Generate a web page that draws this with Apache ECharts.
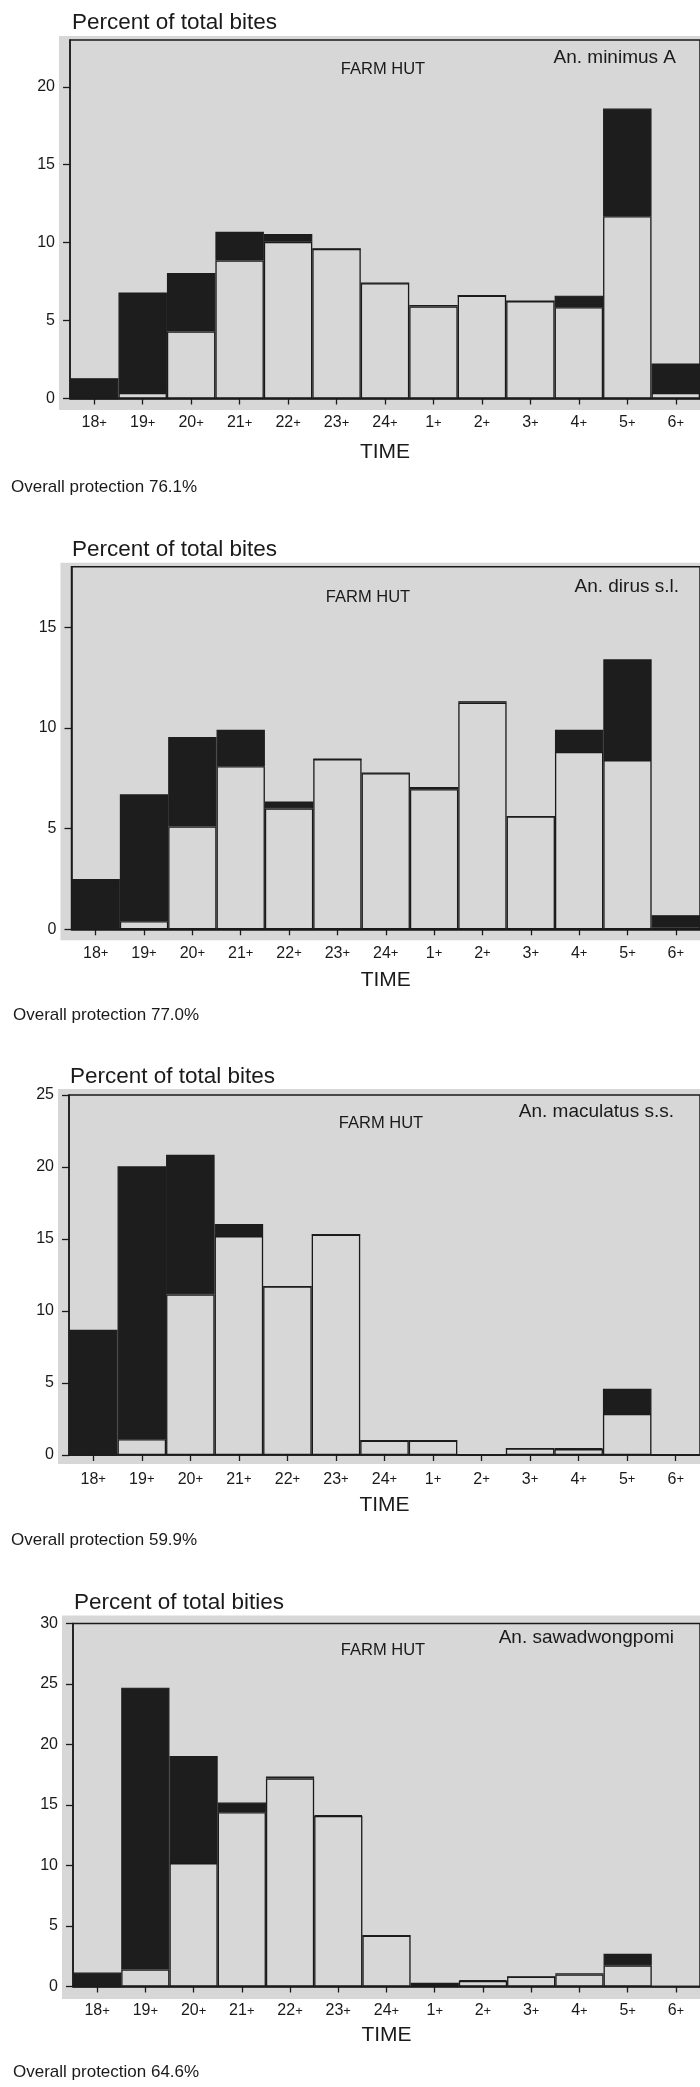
<!DOCTYPE html>
<html>
<head>
<meta charset="utf-8">
<script src="https://cdn.jsdelivr.net/npm/echarts@6/dist/echarts.min.js"></script>
<style>
html,body{margin:0;padding:0;background:#fff;overflow:hidden;}
#chart{width:700px;height:2087px;}
</style>
</head>
<body>
<div id="chart"></div>
<script>
// ---- data ----
const categories = ['18+','19+','20+','21+','22+','23+','24+','1+','2+','3+','4+','5+','6+'];

// Panel 1: An. minimus A
const p1White = [0, 0.35, 4.3, 8.85, 10.05, 9.6, 7.4, 5.9, 6.6, 6.25, 5.85, 11.7, 0.35];
const p1Black = [1.3, 6.45, 3.75, 1.85, 0.5, 0, 0, 0.1, 0, 0, 0.75, 6.9, 1.9];
const p1YTicks = [0, 5, 10, 15, 20];

// Panel 2: An. dirus s.l.
const p2White = [0, 0.4, 5.1, 8.1, 6.0, 8.45, 7.75, 6.95, 11.25, 5.6, 8.8, 8.4, 0.1];
const p2Black = [2.5, 6.3, 4.45, 1.8, 0.35, 0, 0, 0.12, 0.07, 0, 1.1, 5.0, 0.6];
const p2YTicks = [0, 5, 10, 15];

// Panel 3: An. maculatus s.s.
const p3White = [0, 1.1, 11.15, 15.2, 11.7, 15.3, 1.0, 1.0, 0, 0.45, 0.41, 2.85, 0];
const p3Black = [8.7, 18.95, 9.7, 0.85, 0, 0, 0, 0, 0, 0, 0.06, 1.75, 0];
const p3YTicks = [0, 5, 10, 15, 20, 25];

// Panel 4: An. sawadwongpomi
const p4White = [0, 1.4, 10.2, 14.4, 17.2, 14.1, 4.2, 0.2, 0.45, 0.8, 1.0, 1.75, 0];
const p4Black = [1.15, 23.3, 8.85, 0.8, 0.15, 0.05, 0, 0.1, 0.07, 0, 0.1, 0.95, 0];
const p4YTicks = [0, 5, 10, 15, 20, 25, 30];

const yMaxes = [23, 18, 25, 30];
const titles = ['Percent of total bites', 'Percent of total bites', 'Percent of total bites', 'Percent of total bities'];
const speciesNames = ['An. minimus A', 'An. dirus s.l.', 'An. maculatus s.s.', 'An. sawadwongpomi'];
const protections = ['Overall protection 76.1%', 'Overall protection 77.0%', 'Overall protection 59.9%', 'Overall protection 64.6%'];
const hutLabel = 'FARM HUT';
const xName = 'TIME';

const whites = [p1White, p2White, p3White, p4White];
const blacks = [p1Black, p2Black, p3Black, p4Black];
const yTicks = [p1YTicks, p2YTicks, p3YTicks, p4YTicks];

// ---- layout (pixels) ----
const layout = [
  {ax: 70,   top: 40,     base: 398.5,  bgTop: 4, bgBot: 11.5, titleX: 72, titleY: 23,   spX: 676, spY: 58,   hutX: 383, hutY: 69,   protX: 11, protY: 487,  timeY: 452},
  {ax: 71.5, top: 566.7,  base: 929.3,  bgTop: 4, bgBot: 11,   titleX: 72, titleY: 550,  spX: 679, spY: 587,  hutX: 368, hutY: 597,  protX: 13, protY: 1015, timeY: 980},
  {ax: 69,   top: 1095,   base: 1455,   bgTop: 6, bgBot: 9,    titleX: 70, titleY: 1077, spX: 674, spY: 1112, hutX: 381, hutY: 1123, protX: 11, protY: 1540, timeY: 1505},
  {ax: 73,   top: 1623.5, base: 1986.5, bgTop: 8, bgBot: 12.5, titleX: 74, titleY: 1603, spX: 674, spY: 1638, hutX: 383, hutY: 1650, protX: 13, protY: 2072, timeY: 2035}
];
const plotWidth = 49.1 * 13;
const FONT = '"Liberation Sans", Arial, Helvetica, sans-serif';
const INK = '#1a1a1a';
const BG = '#d7d7d7';
const DARK = '#1d1d1d';

const grids = [], xAxes = [], yAxes = [], series = [], graphics = [];

layout.forEach((L, i) => {
  const h = L.base - L.top;
  grids.push({
    left: L.ax, top: L.top, width: plotWidth, height: h,
    show: true, borderColor: INK, borderWidth: 1.5, backgroundColor: 'transparent', z: 1
  });
  xAxes.push({
    type: 'category', gridIndex: i, data: categories, boundaryGap: true,
    axisLine: {show: true, lineStyle: {color: INK, width: 1.5}},
    axisTick: {show: true, alignWithLabel: true, length: 6, lineStyle: {color: INK, width: 1.3}},
    axisLabel: {
      interval: 0, margin: 16, color: INK,
      formatter: v => {
        const m = v.match(/^(\d+)(\+)$/);
        return m ? '{n|' + m[1] + '}{p|+}' : v;
      },
      rich: {
        n: {fontSize: 16, fontFamily: FONT, color: INK, lineHeight: 17},
        p: {fontSize: 13, fontFamily: FONT, color: INK, lineHeight: 17}
      }
    },
    splitLine: {show: false},
    name: xName, nameLocation: 'middle', nameGap: L.timeY - L.base - 10.5,
    nameTextStyle: {fontSize: 21, fontFamily: FONT, color: INK, lineHeight: 21}
  });
  yAxes.push({
    type: 'value', gridIndex: i, min: 0, max: yMaxes[i], interval: 5,
    splitLine: {show: false},
    axisLine: {show: true, lineStyle: {color: INK, width: 1.5}},
    axisTick: {show: true, length: 7, customValues: yTicks[i], lineStyle: {color: INK, width: 1.3}},
    axisLabel: {customValues: yTicks[i], margin: 15, fontSize: 16, fontFamily: FONT, color: INK}
  });
  series.push({
    type: 'bar', name: 'white' + i, xAxisIndex: i, yAxisIndex: i, stack: 's' + i,
    data: whites[i], barWidth: '100%', barGap: '0%', barCategoryGap: '0%',
    itemStyle: {color: BG, borderColor: INK, borderWidth: 1.3},
    silent: true
  });
  series.push({
    type: 'bar', name: 'black' + i, xAxisIndex: i, yAxisIndex: i, stack: 's' + i,
    data: blacks[i], barWidth: '100%', barGap: '0%', barCategoryGap: '0%',
    itemStyle: {color: DARK, borderColor: DARK, borderWidth: 1.2},
    silent: true
  });
  // background panel
  graphics.push({
    type: 'rect', z: -10, silent: true,
    shape: {x: L.ax - 11, y: L.top - L.bgTop, width: 700 - (L.ax - 11) + 20, height: (L.base + L.bgBot) - (L.top - L.bgTop)},
    style: {fill: BG}
  });
  graphics.push({type: 'text', z: 10, x: L.titleX, y: L.titleY,
    style: {text: titles[i], font: '22.5px ' + FONT, fill: INK, textAlign: 'left', textVerticalAlign: 'middle'}});
  graphics.push({type: 'text', z: 10, x: L.spX, y: L.spY,
    style: {text: speciesNames[i], font: '19px ' + FONT, fill: INK, textAlign: 'right', textVerticalAlign: 'middle'}});
  graphics.push({type: 'text', z: 10, x: L.hutX, y: L.hutY,
    style: {text: hutLabel, font: '16.5px ' + FONT, fill: INK, textAlign: 'center', textVerticalAlign: 'middle'}});
  graphics.push({type: 'text', z: 10, x: L.protX, y: L.protY,
    style: {text: protections[i], font: '17px ' + FONT, fill: INK, textAlign: 'left', textVerticalAlign: 'middle'}});
});

const chart = echarts.init(document.getElementById('chart'), null, {renderer: 'canvas'});
chart.setOption({
  animation: false,
  backgroundColor: '#ffffff',
  grid: grids,
  xAxis: xAxes,
  yAxis: yAxes,
  series: series,
  graphic: graphics
});
</script>
</body>
</html>
